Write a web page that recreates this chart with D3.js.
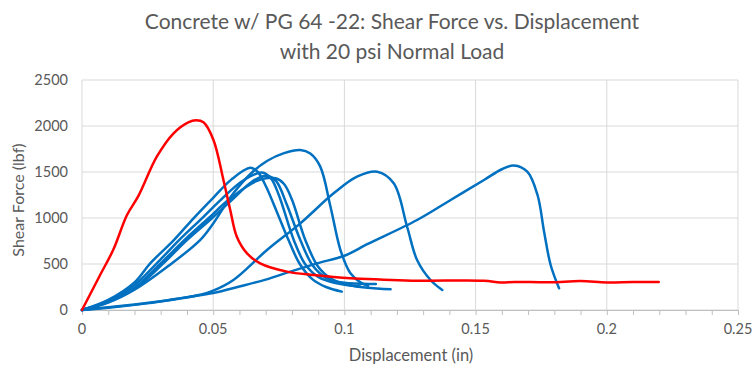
<!DOCTYPE html>
<html>
<head>
<meta charset="utf-8">
<script src="https://cdn.jsdelivr.net/npm/d3@7"></script>
<style>
  body { margin: 0; background: #fff; }
  text { font-family: Lato, "Open Sans", sans-serif; fill: #595959; }
</style>
</head>
<body>
<svg id="chart" width="753" height="367"></svg>
<script>
// x = displacement (in), y = shear force (lbf)
const titleLines = ['Concrete w/ PG 64 -22:  Shear Force vs. Displacement', 'with 20 psi Normal Load'];
const xTicks = [0, 0.05, 0.1, 0.15, 0.2, 0.25];
const yTicks = [0, 500, 1000, 1500, 2000, 2500];

const redSeries = [[0,0],[0.0069,380],[0.012,660],[0.0171,1030],[0.0215,1240],[0.0285,1666],[0.0349,1921],[0.0405,2040],[0.0435,2062],[0.0463,2040],[0.0501,1848],[0.0539,1413],[0.0565,1087],[0.059,797],[0.0629,616],[0.0679,507],[0.0781,417],[0.0883,380],[0.1023,344],[0.115,330],[0.1277,319],[0.1532,319],[0.1595,300],[0.165,305],[0.1786,301],[0.19,315],[0.2,300],[0.21,305],[0.2198,304]];

const blueA = [[0,0],[0.01,110],[0.02,300],[0.026,507],[0.035,760],[0.0425,997],[0.05,1220],[0.057,1420],[0.0641,1545],[0.067,1500],[0.07,1350],[0.0745,1050],[0.0787,761],[0.083,500],[0.088,330],[0.093,250],[0.099,200]];
const blueB = [[0,0],[0.01,100],[0.02,270],[0.0285,507],[0.037,760],[0.0457,997],[0.053,1200],[0.061,1400],[0.0686,1495],[0.072,1430],[0.075,1250],[0.0807,761],[0.085,500],[0.09,360],[0.097,290],[0.106,255]];
const blueC = [[0,0],[0.01,90],[0.02,240],[0.03,507],[0.039,760],[0.0482,997],[0.056,1200],[0.0665,1400],[0.0737,1432],[0.077,1370],[0.08,1200],[0.0851,761],[0.09,470],[0.095,340],[0.102,270],[0.1176,225]];
const blueG = [[0,0],[0.01,85],[0.02,230],[0.031,507],[0.04,760],[0.0495,997],[0.058,1220],[0.065,1400],[0.0705,1460],[0.074,1400],[0.078,1150],[0.0832,761],[0.088,480],[0.093,350],[0.1,295],[0.112,283]];
const blueD = [[0,0],[0.01,80],[0.02,220],[0.033,480],[0.045,760],[0.05,940],[0.0577,1270],[0.065,1500],[0.0705,1620],[0.077,1705],[0.0832,1739],[0.087,1700],[0.0908,1558],[0.0947,1123],[0.0985,652],[0.1023,399],[0.1061,300],[0.109,262]];
const blueE = [[0,0],[0.01,30],[0.02,60],[0.03,95],[0.04,135],[0.045,165],[0.05,210],[0.0577,326],[0.0705,652],[0.0832,942],[0.0959,1268],[0.1048,1449],[0.1125,1503],[0.1188,1377],[0.1239,905],[0.1277,543],[0.1328,326],[0.1373,217]];
const blueF = [[0,0],[0.01,25],[0.0247,72],[0.04,140],[0.05,185],[0.06,255],[0.07,330],[0.0794,417],[0.0896,507],[0.1,590],[0.1087,715],[0.1277,978],[0.1405,1196],[0.1532,1413],[0.16,1530],[0.1646,1570],[0.1697,1503],[0.1736,1250],[0.1761,851],[0.1786,489],[0.1818,236]];

const blueSeries = [blueA, blueB, blueC, blueG, blueD, blueE, blueF];

const margin = {left: 82, right: 15, top: 80, bottom: 57};
const width = 753, height = 367;

const svg = d3.select('#chart');

const xScale = d3.scaleLinear().domain([0, 0.25]).range([margin.left, width - margin.right]);
const yScale = d3.scaleLinear().domain([0, 2500]).range([height - margin.bottom, margin.top]);

// gridlines
svg.append('g').selectAll('line.h')
  .data(yTicks)
  .enter().append('line')
  .attr('x1', xScale(0)).attr('x2', xScale(0.25))
  .attr('y1', d => yScale(d)).attr('y2', d => yScale(d))
  .attr('stroke', '#d9d9d9').attr('stroke-width', 1);

svg.append('g').selectAll('line.v')
  .data(xTicks)
  .enter().append('line')
  .attr('x1', d => xScale(d)).attr('x2', d => xScale(d))
  .attr('y1', yScale(0)).attr('y2', yScale(2500))
  .attr('stroke', '#d9d9d9').attr('stroke-width', 1);

// x axis with minor ticks
const xAxis = d3.axisBottom(xScale)
  .tickValues(d3.range(0, 0.2501, 0.01))
  .tickSize(5)
  .tickFormat('');

const xAxisG = svg.append('g')
  .attr('transform', 'translate(0,' + yScale(0) + ')')
  .call(xAxis);
xAxisG.select('.domain').attr('stroke', '#bfbfbf');
xAxisG.selectAll('.tick line').attr('stroke', '#bfbfbf');

// tick labels
svg.append('g').selectAll('text')
  .data(xTicks)
  .enter().append('text')
  .attr('x', d => xScale(d))
  .attr('y', yScale(0) + 24)
  .attr('text-anchor', 'middle')
  .style('font-size', '14.5px')
  .text(d => d);

svg.append('g').selectAll('text')
  .data(yTicks)
  .enter().append('text')
  .attr('x', margin.left - 14)
  .attr('y', d => yScale(d) + 5)
  .attr('text-anchor', 'end')
  .style('font-size', '14.5px')
  .text(d => d);

// axis titles
svg.append('text')
  .attr('x', 411).attr('y', 361)
  .attr('text-anchor', 'middle')
  .style('font-size', '16.5px')
  .text('Displacement (in)');

svg.append('text')
  .attr('transform', 'translate(24,' + 200 + ') rotate(-90)')
  .attr('text-anchor', 'middle')
  .style('font-size', '16px')
  .text('Shear Force (lbf)');

// title
svg.append('g').selectAll('text')
  .data(titleLines)
  .enter().append('text')
  .attr('x', 392)
  .attr('y', (d, i) => 29 + i * 30)
  .attr('text-anchor', 'middle')
  .style('font-size', '21px')
  .text(d => d);

// series
const line = d3.line()
  .x(d => xScale(d[0]))
  .y(d => yScale(d[1]))
  .curve(d3.curveCatmullRom.alpha(0.5));

svg.append('g').selectAll('path')
  .data(blueSeries)
  .enter().append('path')
  .attr('d', line)
  .attr('fill', 'none')
  .attr('stroke', '#0070c0')
  .attr('stroke-width', 2.5)
  .attr('stroke-linejoin', 'round')
  .attr('stroke-linecap', 'round');

svg.append('path')
  .datum(redSeries)
  .attr('d', line)
  .attr('fill', 'none')
  .attr('stroke', '#ff0000')
  .attr('stroke-width', 2.5)
  .attr('stroke-linejoin', 'round')
  .attr('stroke-linecap', 'round');
</script>
</body>
</html>
